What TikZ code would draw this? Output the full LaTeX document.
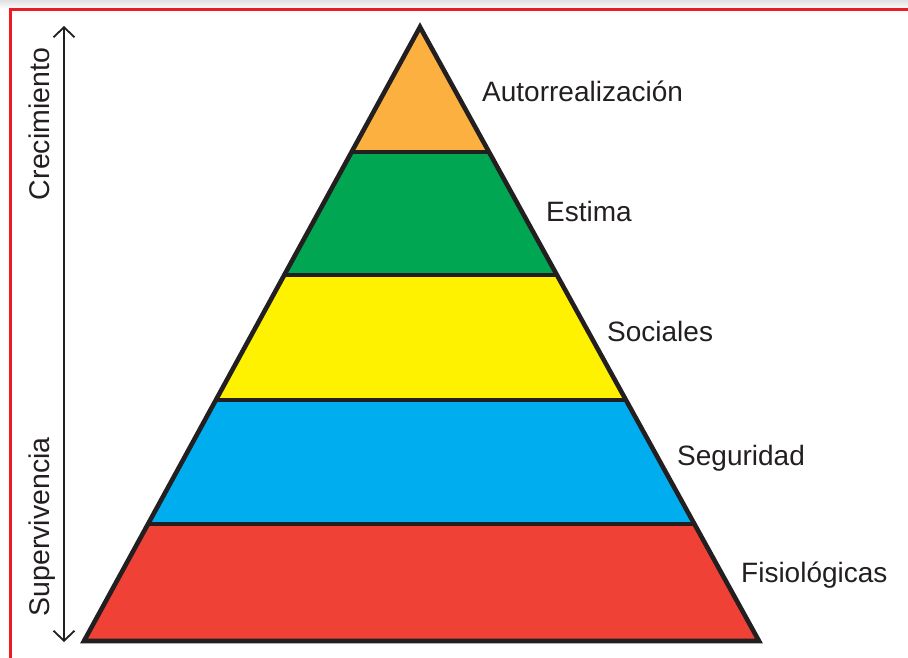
\documentclass[tikz,border=0pt]{standalone}
\usepackage{fontspec}
\setmainfont{Liberation Sans}
\usetikzlibrary{arrows.meta,calc}
\definecolor{frame}{HTML}{ED1C24}
\definecolor{outl}{HTML}{231F20}
\definecolor{cOrange}{HTML}{FBB040}
\definecolor{cGreen}{HTML}{00A651}
\definecolor{cYellow}{HTML}{FFF200}
\definecolor{cBlue}{HTML}{00AEEF}
\definecolor{cRed}{HTML}{EF4136}
\begin{document}
\begin{tikzpicture}[x=1pt,y=-1pt,
  lbl/.style={font=\fontsize{28}{32}\selectfont, inner sep=0pt, anchor=base west, text=outl},
  side/.style={font=\fontsize{28.5}{32}\selectfont, inner sep=0pt, rotate=90, anchor=base, text=outl},
  band/.style={line width=4pt, draw=outl, line join=miter},
  tri/.style={line width=4.6pt, draw=outl, line join=miter}]
\useasboundingbox (0,0) rectangle (908,658);
\shade[top color=black!12, bottom color=white] (0,0) rectangle (908,9);
\draw[frame, line width=3pt] (10,662) -- (10,10) -- (912,10);
\coordinate (apex) at (420,27);
\coordinate (bl) at (84,641);
\coordinate (br) at (759,641);
\coordinate (l1) at ($(apex)!0.2036!(bl)$);
\coordinate (r1) at ($(apex)!0.2036!(br)$);
\coordinate (l2) at ($(apex)!0.4039!(bl)$);
\coordinate (r2) at ($(apex)!0.4039!(br)$);
\coordinate (l3) at ($(apex)!0.6075!(bl)$);
\coordinate (r3) at ($(apex)!0.6075!(br)$);
\coordinate (l4) at ($(apex)!0.8094!(bl)$);
\coordinate (r4) at ($(apex)!0.8094!(br)$);
\fill[cOrange] (apex) -- (r1) -- (l1) -- cycle;
\fill[cGreen] (l1) -- (r1) -- (r2) -- (l2) -- cycle;
\fill[cYellow] (l2) -- (r2) -- (r3) -- (l3) -- cycle;
\fill[cBlue] (l3) -- (r3) -- (r4) -- (l4) -- cycle;
\fill[cRed] (l4) -- (r4) -- (br) -- (bl) -- cycle;
\draw[band] (l1) -- (r1) (l2) -- (r2) (l3) -- (r3) (l4) -- (r4);
\draw[tri] (apex) -- (br) -- (bl) -- cycle;
\node[lbl] (t1) at (482,102) {Autorrealización};
\node[lbl] (t2) at (546,221) {Estima};
\node[lbl] (t3) at (607,341) {Sociales};
\node[lbl] (t4) at (677,465) {Seguridad};
\node[lbl] (t5) at (741,582) {Fisiológicas};
\coordinate (atop) at (64,26);
\coordinate (abot) at (64,642);
\draw[line width=1.8pt, outl, {Straight Barb[length=10pt,width=21pt]}-{Straight Barb[length=10pt,width=21pt]}] (atop) -- (abot);
\node[side] (s1) at (49,124) {Crecimiento};
\node[side] (s2) at (49,527) {Supervivencia};
\end{tikzpicture}
\end{document}
